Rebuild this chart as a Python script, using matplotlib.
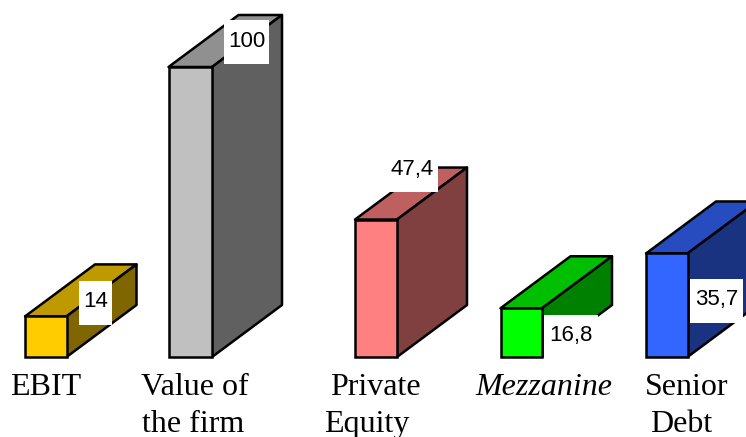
#!/usr/bin/env python3
import matplotlib
matplotlib.use('Agg')
import matplotlib.pyplot as plt
from matplotlib.patches import Rectangle

values = [14, 100, 47.4, 16.8, 35.7]
bar_left = [25, 168.5, 355, 500.5, 646]
bar_width = [41.5, 43.5, 42, 41.5, 41.5]

front_colors = ['#FFCC00', '#C0C0C0', '#FF8080', '#00FF00', '#3366FF']
top_colors = ['#BF9900', '#909090', '#BF6060', '#00BF00', '#264CBF']
side_colors = ['#7F6600', '#606060', '#804040', '#008000', '#1A3380']

# value label boxes: left, top, right, bottom in pixels from the top left
label_boxes = [(79, 281, 112, 325), (224, 20, 269, 64), (387, 148, 438, 192),
               (544, 315, 598, 359), (690, 279, 743, 323)]
label_baselines = [307, 47, 175, 341.5, 305]

# category text, one entry per line: text, x centre, baseline, style
category_lines = [('EBIT', 46, 395, 'normal'),
                  ('Value of', 194.5, 395, 'normal'),
                  ('the firm', 193, 432, 'normal'),
                  ('Private', 375, 395, 'normal'),
                  ('Equity', 367, 432, 'normal'),
                  ('Mezzanine', 544, 395, 'italic'),
                  ('Senior', 686.5, 395, 'normal'),
                  ('Debt', 681, 432, 'normal')]

W, H = 746, 437
BASE_PX = 357
PX_PER_UNIT = 2.9
DEPTH_X = 70
DEPTH_Y = 52 / PX_PER_UNIT
LW = 1.8

fig = plt.figure(figsize=(W / 100, H / 100), dpi=100)

# bars: x in pixels, y in chart units with zero on the base line
ax = fig.add_axes([0, 0, 1, 1])
ax.set_xlim(0, W)
ax.set_ylim((BASE_PX - H) / PX_PER_UNIT, BASE_PX / PX_PER_UNIT)
ax.axis('off')

for i, val in enumerate(values):
    x0 = bar_left[i]
    x1 = x0 + bar_width[i]
    # top face
    ax.fill([x0, x1, x1 + DEPTH_X, x0 + DEPTH_X],
            [val, val, val + DEPTH_Y, val + DEPTH_Y],
            facecolor=top_colors[i], edgecolor='black', linewidth=LW, joinstyle='round')
    # side face
    ax.fill([x1, x1 + DEPTH_X, x1 + DEPTH_X, x1],
            [0, DEPTH_Y, val + DEPTH_Y, val],
            facecolor=side_colors[i], edgecolor='black', linewidth=LW, joinstyle='round')
    ax.bar(x0, val, width=bar_width[i], align='edge', color=front_colors[i],
           edgecolor='black', linewidth=LW)

# overlay in pixel coordinates for the labels
pix = fig.add_axes([0, 0, 1, 1])
pix.set_xlim(0, W)
pix.set_ylim(H, 0)
pix.axis('off')
pix.patch.set_alpha(0)

for val, (l, t, r, b), base in zip(values, label_boxes, label_baselines):
    pix.add_patch(Rectangle((l, t), r - l, b - t, facecolor='white', edgecolor='none'))
    pix.text((l + r) / 2, base, f'{val:g}'.replace('.', ','),
             ha='center', va='baseline', fontsize=16, family='Liberation Sans', color='black')

for text, x, y, style in category_lines:
    pix.text(x, y, text, ha='center', va='baseline', fontsize=23,
             family='Liberation Serif', style=style, color='black')

fig.savefig('out.png', dpi=100, facecolor='white')
